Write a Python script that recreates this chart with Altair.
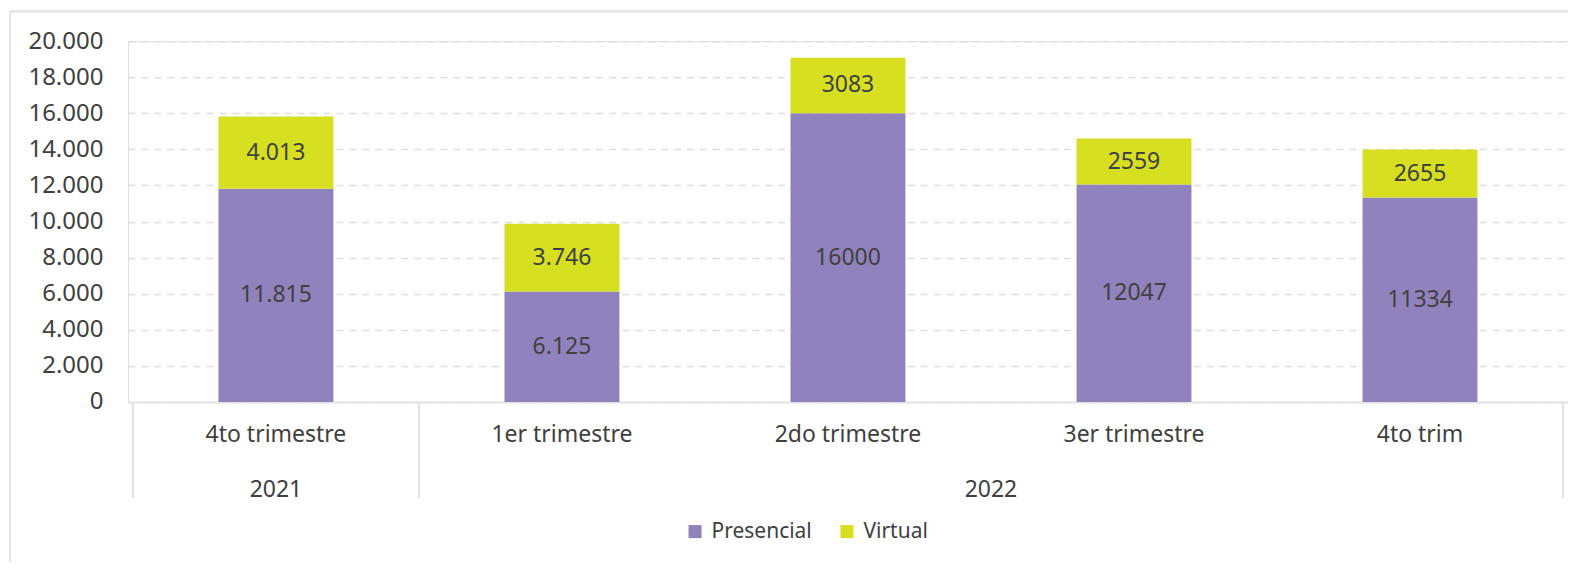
import altair as alt
import pandas as pd

categories = ["4to trimestre", "1er trimestre", "2do trimestre", "3er trimestre", "4to trim"]
presencial = [11815, 6125, 16000, 12047, 11334]
virtual = [4013, 3746, 3083, 2559, 2655]
presencial_labels = ["11.815", "6.125", "16000", "12047", "11334"]
virtual_labels = ["4.013", "3.746", "3083", "2559", "2655"]
years = ["2021", "2022"]
year_start = [0, 1]
year_end = [1, 5]
series = ["Presencial", "Virtual"]
colors = ["#9083BD", "#D7DF21"]
y_ticks = [0, 2000, 4000, 6000, 8000, 10000, 12000, 14000, 16000, 18000, 20000]

FONT = "Noto Sans"
TXT = "#404040"
FS = 23
W, H = 1441, 361

rows = []
for i, c in enumerate(categories):
    rows.append({"cat": c, "idx": i, "series": series[0], "ord": 0, "value": presencial[i], "label": presencial_labels[i]})
    rows.append({"cat": c, "idx": i, "series": series[1], "ord": 1, "value": virtual[i], "label": virtual_labels[i]})
df = pd.DataFrame(rows)
cat_df = pd.DataFrame({"cat": categories, "idx": list(range(len(categories)))})
year_df = pd.DataFrame({"year": years, "start": year_start, "end": year_end})
sep_df = pd.DataFrame({"pos": sorted(set(year_start + year_end))})

xscale = alt.Scale(domain=[0, len(categories)], nice=False, zero=False)
yscale = alt.Scale(domain=[0, 20000], nice=False)

x_axis = alt.Axis(labels=False, ticks=False, grid=False, title=None,
                  domainColor="#e3e3e3", domainWidth=2)
y_axis = alt.Axis(values=y_ticks, title=None, domain=False, ticks=False,
                  labelOverlap=False,
                  labelExpr="replace(format(datum.value, ','), ',', '.')",
                  labelFont=FONT, labelFontSize=24, labelColor=TXT, labelPadding=25,
                  gridColor="#dedede", gridDash=[7, 6], gridWidth=1.5)

base = alt.Chart(df).transform_stack(
    stack="value", groupby=["cat"], as_=["y0", "y1"], sort=[alt.SortField("ord", "ascending")]
).transform_calculate(xc="datum.idx + 0.5", mid="(datum.y0 + datum.y1) / 2")

bars = base.mark_bar(size=115).encode(
    x=alt.X("xc:Q", scale=xscale, axis=x_axis),
    y=alt.Y("y0:Q", scale=yscale, axis=y_axis),
    y2="y1:Q",
    color=alt.Color("series:N", scale=alt.Scale(domain=series, range=colors),
                    legend=alt.Legend(title=None, orient="none", direction="horizontal",
                                      legendX=557, legendY=480, symbolType="square",
                                      symbolSize=170, symbolStrokeWidth=0,
                                      labelFont=FONT, labelFontSize=21, labelColor=TXT,
                                      labelOffset=6, columnPadding=24)),
)

labels = base.mark_text(font=FONT, fontSize=FS, color=TXT).encode(
    x=alt.X("xc:Q", scale=xscale, axis=x_axis),
    y=alt.Y("mid:Q", scale=yscale, axis=y_axis),
    text="label:N",
)

cat_text = alt.Chart(cat_df).transform_calculate(xc="datum.idx + 0.5").mark_text(
    font=FONT, fontSize=FS, color=TXT).encode(
    x=alt.X("xc:Q", scale=xscale, axis=x_axis), y=alt.value(H + 33), text="cat:N")

year_text = alt.Chart(year_df).transform_calculate(xc="(datum.start + datum.end) / 2").mark_text(
    font=FONT, fontSize=FS, color=TXT).encode(
    x=alt.X("xc:Q", scale=xscale, axis=x_axis), y=alt.value(H + 88), text="year:N")

seps = alt.Chart(sep_df).mark_rule(color="#e3e3e3", strokeWidth=2).encode(
    x=alt.X("pos:Q", scale=xscale, axis=x_axis), y=alt.value(H), y2=alt.value(H + 96))

border_left = alt.Chart(cat_df).mark_rule(color="#e6e6e6", strokeWidth=2).encode(
    x=alt.value(-118), y=alt.value(-30), y2=alt.value(H + 160))
border_top = alt.Chart(cat_df).mark_rule(color="#e6e6e6", strokeWidth=2).encode(
    x=alt.value(-118), x2=alt.value(W), y=alt.value(-30))

chart = alt.layer(bars, labels, cat_text, year_text, seps, border_left, border_top).properties(
    width=W, height=H,
    padding={"left": 120, "top": 33, "right": 0, "bottom": 160},
    autosize=alt.AutoSizeParams(type="none"),
).configure_view(strokeWidth=0).configure(background="white")

chart.save("out.html", embed_options={"renderer": "svg", "actions": False})
